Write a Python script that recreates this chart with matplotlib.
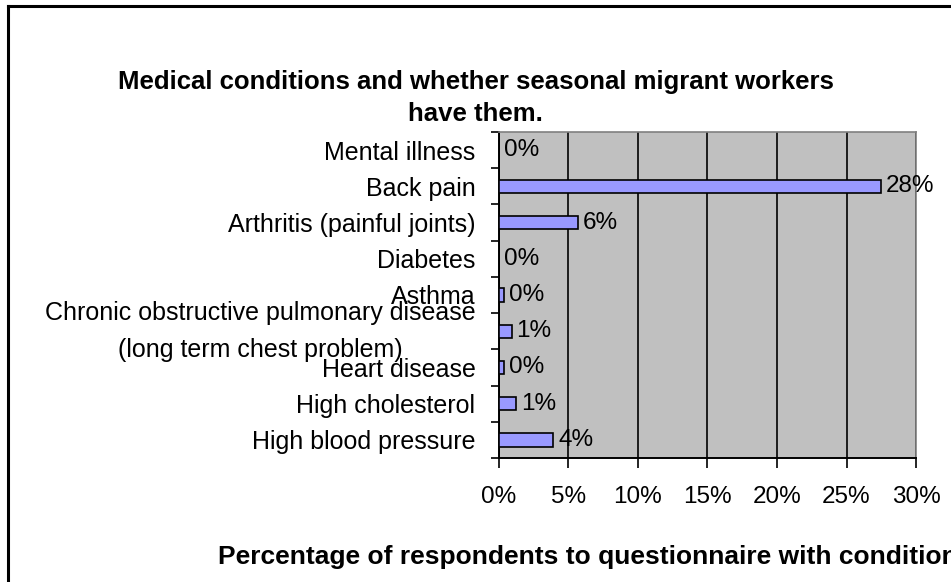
"""
Medical conditions among seasonal migrant workers - horizontal bar chart.
"""

import matplotlib.pyplot as plt
from matplotlib.lines import Line2D
from matplotlib.ticker import FixedLocator, PercentFormatter

plt.rcParams["font.family"] = ["Liberation Sans", "DejaVu Sans"]

# bottom to top, as drawn
CONDITIONS = [
    "High blood pressure",
    "High cholesterol",
    "Heart disease",
    "Chronic obstructive pulmonary disease\n(long term chest problem)",
    "Asthma",
    "Diabetes",
    "Arthritis (painful joints)",
    "Back pain",
    "Mental illness",
]
PERCENT = [3.9, 1.25, 0.35, 0.9, 0.35, 0.0, 5.7, 27.5, 0.0]
XTICKS = [0, 5, 10, 15, 20, 25, 30]

FS = 18

fig = plt.figure(figsize=(9.51, 5.82), dpi=100)
ax = fig.add_axes([0.5247, 0.2131, 0.4385, 0.5601])

ax.set_facecolor("#C0C0C0")
ypos = list(range(len(CONDITIONS)))
ax.barh(ypos, PERCENT, height=0.37, color="#9999FF", edgecolor="black",
        linewidth=1.2, zorder=3)

for y, v in zip(ypos, PERCENT):
    ax.text(v + 0.35, y, f"{round(v):.0f}%", va="center", ha="left",
            fontsize=17.5, zorder=4)

ax.set_xlim(0, 30)
ax.set_ylim(-0.5, len(CONDITIONS) - 0.5)

# vertical gridlines
ax.set_xticks(XTICKS)
ax.xaxis.set_major_formatter(PercentFormatter(decimals=0))
ax.grid(axis="x", color="black", linewidth=1.2, zorder=1)
ax.tick_params(axis="x", direction="out", length=7, width=1.2, pad=13,
               labelsize=17.5)

# category labels with ticks between categories
ax.set_yticks(ypos)
ax.set_yticklabels(CONDITIONS, fontsize=FS, linespacing=1.7,
                   multialignment="center")
for lbl in ax.get_yticklabels():
    if "\n" in lbl.get_text():
        lbl.set_va("center")
ax.yaxis.set_minor_locator(FixedLocator([i - 0.5 for i in range(len(CONDITIONS) + 1)]))
ax.tick_params(axis="y", which="major", length=0, pad=17)
ax.tick_params(axis="y", which="minor", direction="out", length=6, width=1.2)

for side in ["left", "bottom"]:
    ax.spines[side].set_color("black")
    ax.spines[side].set_linewidth(1.4)
for side in ["top", "right"]:
    ax.spines[side].set_color("#808080")
    ax.spines[side].set_linewidth(1.2)

fig.text(0.500, 0.832, "Medical conditions and whether seasonal migrant workers\nhave them.",
         ha="center", va="center", fontsize=18.5, fontweight="bold", linespacing=1.45)
fig.text(0.229, 0.043, "Percentage of respondents to questionnaire with condition",
         ha="left", va="center", fontsize=19, fontweight="bold")

# outer chart frame (only top and left edges fall inside the image)
fig.add_artist(Line2D([8 / 951, 8 / 951], [0, 1 - 6 / 582], color="black",
                      linewidth=2.2, transform=fig.transFigure))
fig.add_artist(Line2D([8 / 951, 1], [1 - 6 / 582, 1 - 6 / 582], color="black",
                      linewidth=2.2, transform=fig.transFigure))

plt.savefig("out.png", dpi=100)
